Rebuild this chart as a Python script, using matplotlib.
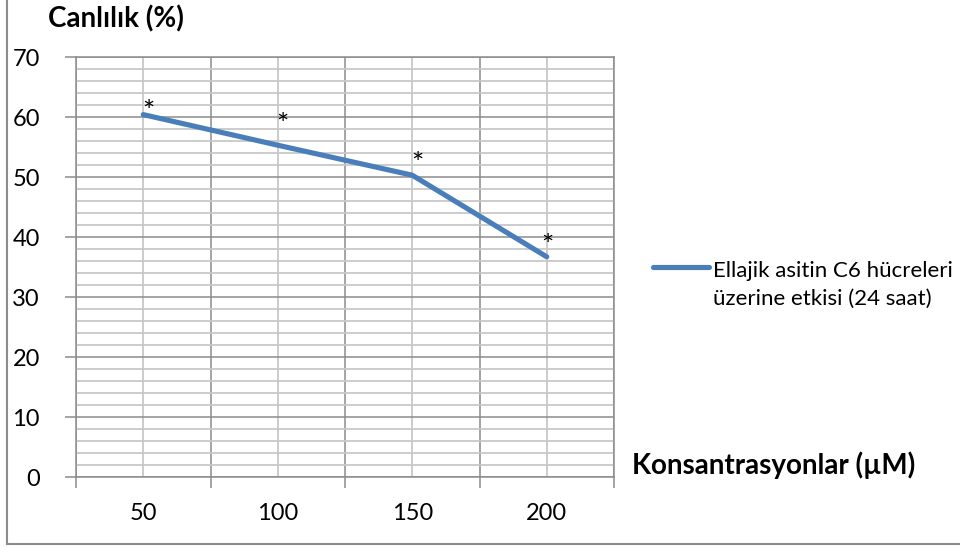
import numpy as np
import matplotlib
matplotlib.use("Agg")
import matplotlib.pyplot as plt
from matplotlib.lines import Line2D

plt.rcParams['font.family'] = ['Lato', 'DejaVu Sans']

# ---- data ----
concentrations = ["50", "100", "150", "200"]
viability = [60.4, 55.3, 50.3, 36.7]
series_label = "Ellajik asitin C6 hücreleri\nüzerine etkisi (24 saat)"
y_title = "Canlılık (%)"
x_title = "Konsantrasyonlar (µM)"
y_ticks = [0, 10, 20, 30, 40, 50, 60, 70]

W, H = 960, 547
fig = plt.figure(figsize=(W / 100, H / 100), dpi=100)
L, R, T, B = 76, 614, 57, 477
ax = fig.add_axes([L / W, 1 - B / H, (R - L) / W, (B - T) / H])

x = np.arange(len(concentrations))
ax.plot(x, viability, color='#4a7ebb', lw=3.7, solid_capstyle='round',
        solid_joinstyle='round', label=series_label, zorder=5, clip_on=False)

# asterisks above points (offsets in pixels)
star_offsets = [(5, 2), (5, 19), (5, 10), (1, 10)]
for xi, v, (dx, dy) in zip(x, viability, star_offsets):
    ax.annotate('*', xy=(xi, v), xytext=(dx, dy), textcoords='offset pixels',
                ha='center', va='center', fontsize=21, color='black', zorder=6)

ax.set_xlim(-0.5, len(concentrations) - 0.5)
ax.set_ylim(0, 70)

ax.set_yticks(y_ticks)
ax.set_yticks(np.arange(0, 71, 2), minor=True)
ax.set_xticks(np.arange(-0.5, len(concentrations), 1))
ax.set_xticklabels([''] * (len(concentrations) + 1))
ax.set_xticks(x, minor=True)
ax.set_xticklabels(concentrations, minor=True)

ax.grid(which='minor', color='#c8c8c8', lw=1.3, zorder=0)
ax.grid(which='major', color='#8c8c8c', lw=1.1, zorder=1)
ax.set_axisbelow(True)

ax.tick_params(axis='both', which='minor', length=0)
ax.tick_params(axis='x', which='minor', pad=18.5, labelsize=17)
ax.tick_params(axis='both', which='major', length=8, width=1.1, color='#8c8c8c',
               direction='out')
ax.tick_params(axis='y', which='major', pad=18, labelsize=17)
for s in ax.spines.values():
    s.set_color('#8c8c8c')
    s.set_linewidth(1.1)

fig.text(48 / W, 1 - 19 / H, y_title, fontsize=20, fontweight='bold',
         ha='left', va='center')
fig.text(632 / W, 1 - 465 / H, x_title, fontsize=20, fontweight='bold',
         ha='left', va='center')

leg = fig.legend(loc='center left', bbox_to_anchor=(653 / W, 1 - 285 / H),
                 frameon=False, fontsize=16, handlelength=2.5,
                 handletextpad=0.2, borderpad=0, borderaxespad=0)
for t in leg.get_texts():
    t.set_linespacing(1.5)
for h in leg.get_lines():
    h.set_ydata(np.asarray(h.get_ydata()) + 13)

# outer chart border (left and bottom visible)
fig.add_artist(Line2D([7 / W, 7 / W], [1 - 544 / H, 1.0], transform=fig.transFigure,
                      color='#8c8c8c', lw=1.5))
fig.add_artist(Line2D([7 / W, 1.0], [1 - 544 / H, 1 - 544 / H], transform=fig.transFigure,
                      color='#8c8c8c', lw=1.5))

fig.savefig('out.png', dpi=100, facecolor='white')
